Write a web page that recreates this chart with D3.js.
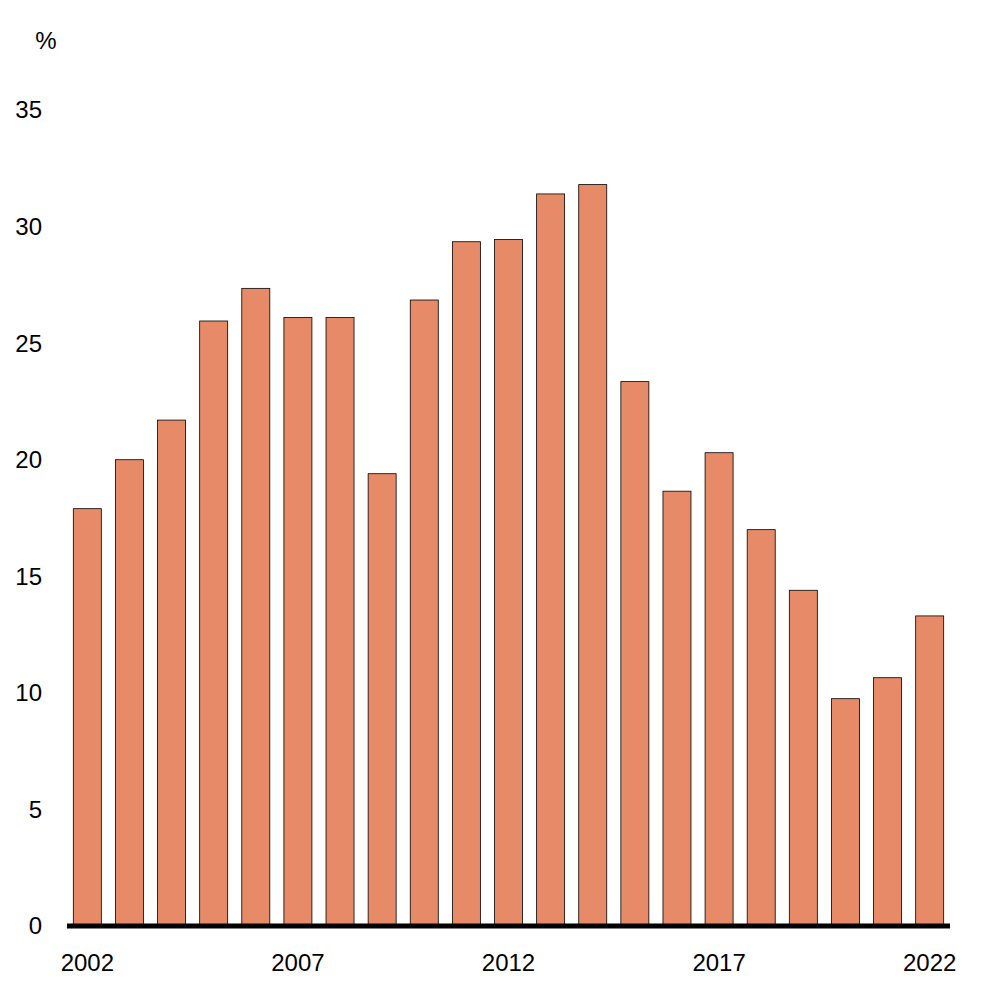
<!DOCTYPE html>
<html>
<head>
<script src="https://cdn.jsdelivr.net/npm/d3@7"></script>
<style>
  body { margin: 0; background: #fff; }
  text { font-family: "Liberation Sans", Arial, sans-serif; fill: #000; }
</style>
</head>
<body>
<svg id="chart" width="1004" height="1004"></svg>
<script>
var years = d3.range(2002, 2023);
var values = [17.9, 20.0, 21.7, 25.95, 27.35, 26.1, 26.1, 19.4, 26.85, 29.35, 29.45,
              31.4, 31.8, 23.35, 18.65, 20.3, 17.0, 14.4, 9.75, 10.65, 13.3];
var yTicks = [0, 5, 10, 15, 20, 25, 30, 35];
var xLabels = [2002, 2007, 2012, 2017, 2022];

var svg = d3.select("#chart");
var x = d3.scaleBand().domain(years).range([67, 950]).paddingInner(0.335).paddingOuter(0.15);
var y = d3.scaleLinear().domain([0, 35]).range([926, 110]);

// bars
svg.selectAll("rect.bar").data(values).enter().append("rect")
   .attr("class", "bar")
   .attr("x", function (d, i) { return x(years[i]); })
   .attr("y", function (d) { return y(d); })
   .attr("width", x.bandwidth())
   .attr("height", function (d) { return y(0) - y(d); })
   .attr("fill", "#e68a67")
   .attr("stroke", "#000")
   .attr("stroke-width", 0.8);

// y labels
svg.selectAll("text.ytick").data(yTicks).enter().append("text")
   .attr("class", "ytick")
   .attr("x", 42).attr("y", function (d) { return y(d); })
   .attr("dy", "0.35em").attr("text-anchor", "end")
   .style("font-size", "24px")
   .text(function (d) { return d; });

svg.append("text").attr("x", 46).attr("y", 49).attr("text-anchor", "middle")
   .style("font-size", "24px").text("%");

// baseline
svg.append("line").attr("x1", 67).attr("x2", 950)
   .attr("y1", y(0)).attr("y2", y(0))
   .attr("stroke", "#000").attr("stroke-width", 5);

// x labels
svg.selectAll("text.xtick").data(xLabels).enter().append("text")
   .attr("class", "xtick")
   .attr("x", function (d) { return x(d) + x.bandwidth() / 2; })
   .attr("y", 971).attr("text-anchor", "middle")
   .style("font-size", "24px")
   .text(function (d) { return d; });
</script>
</body>
</html>
